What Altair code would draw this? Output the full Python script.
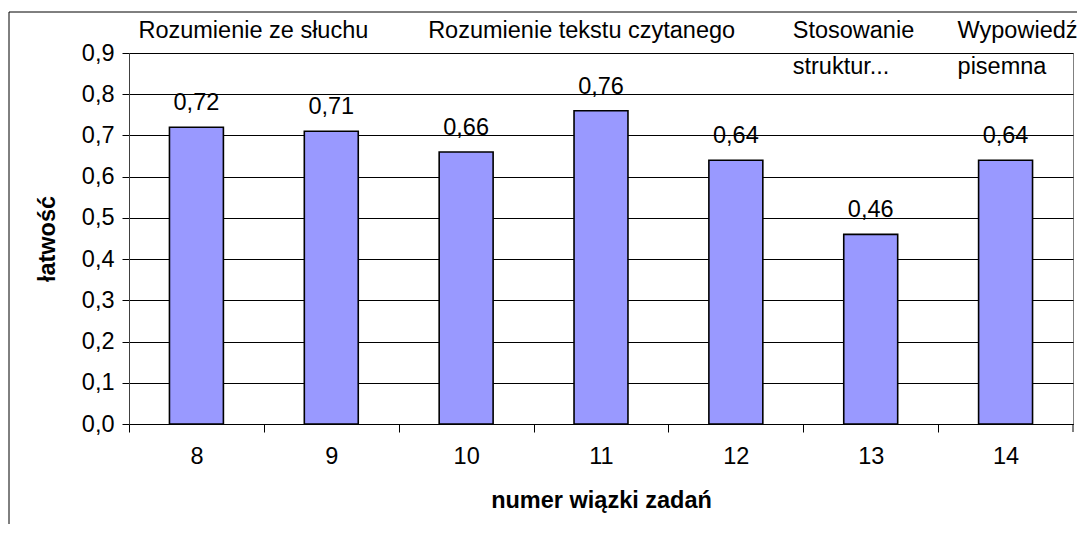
import altair as alt
import pandas as pd

categories = ["8", "9", "10", "11", "12", "13", "14"]
values = [0.72, 0.71, 0.66, 0.76, 0.64, 0.46, 0.64]

group_text = ["Rozumienie ze słuchu", "Rozumienie tekstu czytanego", "Stosowanie\nstruktur...", "Wypowiedź\npisemna"]
group_anchor = ["8", "10", "13", "14"]
group_dx = [-58, -38, -78, -48]

y_ticks = [0.0, 0.1, 0.2, 0.3, 0.4, 0.5, 0.6, 0.7, 0.8, 0.9]

W, H = 944, 371
FONT = "Liberation Sans"
FS = 23.5
step = W / 7.0

df = pd.DataFrame({"cat": categories, "v": values})

xenc = alt.X("cat:N", sort=categories,
             scale=alt.Scale(paddingInner=0.6, paddingOuter=0.3),
             axis=alt.Axis(title="numer wiązki zadań", labelAngle=0,
                           tickOffset=-step / 2, labelOffset=step / 2,
                           tickSize=8, tickColor="black", domainColor="black",
                           labelPadding=12, labelBaseline="top",
                           labelFontSize=FS, labelColor="black",
                           titleFontSize=FS, titleFontWeight="bold", titleColor="black",
                           titleY=83, titleBaseline="alphabetic", grid=False))

yenc = alt.Y("v:Q", scale=alt.Scale(domain=[0, 0.9], nice=False, zero=True),
             axis=alt.Axis(title="łatwość", values=y_ticks,
                           labelExpr="replace(format(datum.value, '.1f'), '.', ',')",
                           tickSize=7, tickColor="black", domainColor="#404040",
                           labelPadding=8, labelFontSize=FS, labelColor="black",
                           gridColor="black", gridWidth=1, gridOpacity=1,
                           titleFontSize=FS, titleFontWeight="bold", titleColor="black",
                           titleX=-82, titleY=H / 2, titleAngle=270,
                           titleAlign="center", titleBaseline="middle"))

base = alt.Chart(df)

bars = base.mark_bar(color="#9999FF", stroke="black", strokeWidth=1.6).encode(x=xenc, y=yenc)

labels = base.transform_calculate(
    lab="replace(format(datum.v, '.2f'), '.', ',')"
).mark_text(fontSize=FS, baseline="alphabetic", dy=-17, color="black").encode(
    x=alt.X("cat:N", sort=categories), y=alt.Y("v:Q"), text="lab:N")

layers = []
for t, a, d in zip(group_text, group_anchor, group_dx):
    layers.append(
        alt.Chart(pd.DataFrame({"cat": [a], "label": [t]})).mark_text(
            fontSize=FS, align="left", baseline="alphabetic", lineBreak="\n",
            lineHeight=36, color="black", dx=d).encode(
            x=alt.X("cat:N", sort=categories), y=alt.value(-15), text="label:N"))

frame = alt.Chart(pd.DataFrame({"a": [0]})).mark_rect(
    fillOpacity=0, stroke="black", strokeWidth=1).encode(
    x=alt.value(-120), x2=alt.value(W + 60), y=alt.value(-41), y2=alt.value(H + 200))

end_tick = alt.Chart(pd.DataFrame({"a": [0]})).mark_rule(color="black").encode(
    x=alt.value(W), y=alt.value(H), y2=alt.value(H + 8))

chart = alt.layer(bars, labels, *layers, frame, end_tick).properties(
    width=W, height=H,
    autosize=alt.AutoSizeParams(type="none"),
    padding={"left": 121, "top": 45, "right": 4, "bottom": 100},
).configure(font=FONT).configure_view(stroke="#808080", strokeWidth=1)

chart.save("out.html", embed_options={"renderer": "svg", "actions": False})
